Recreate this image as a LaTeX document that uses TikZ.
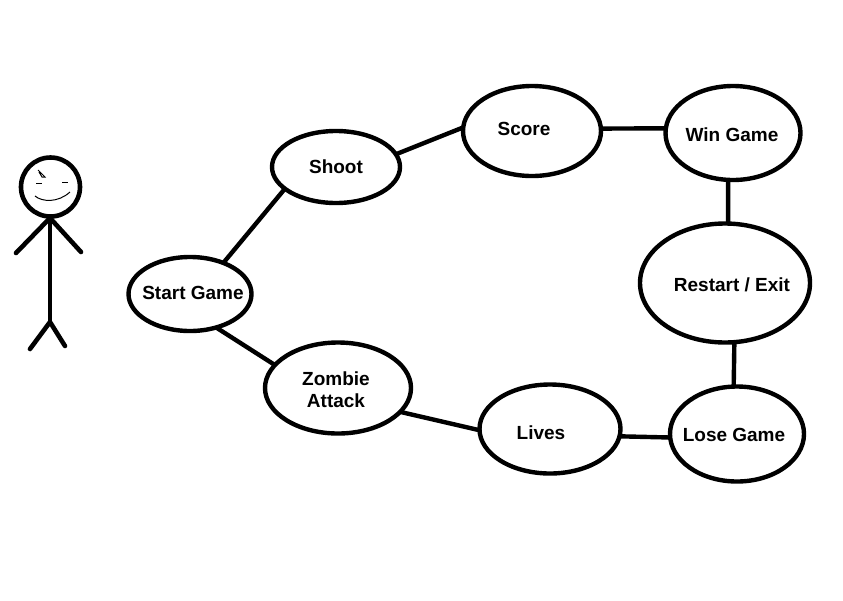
\documentclass[tikz,border=0pt]{standalone}
\usepackage{fontspec}
\setmainfont{Liberation Sans}
\usetikzlibrary{shapes.geometric}

\begin{document}
\begin{tikzpicture}[
    x=1pt, y=-1pt,
    state/.style={ellipse, draw=black, line width=4.4pt, inner sep=0pt, outer sep=0pt},
    caption/.style={inner sep=0pt, align=center, yshift=-0.8pt, font=\bfseries\fontsize{19}{22}\selectfont},
    link/.style={draw=black, line width=4.4pt},
    figure/.style={draw=black, line width=4.6pt, line cap=round, line join=round},
    face/.style={draw=black, line width=1pt}
]
\useasboundingbox (0,0) rectangle (843,600);

% States
\node[state, minimum width=123pt, minimum height=74pt] (start) at (190,294) {};
\node[state, minimum width=128pt, minimum height=72pt] (shoot) at (336,167) {};
\node[state, minimum width=138pt, minimum height=90pt] (score) at (532,131) {};
\node[state, minimum width=135pt, minimum height=94pt] (win) at (733,133) {};
\node[state, minimum width=170pt, minimum height=119pt] (restart) at (725,283) {};
\node[state, minimum width=134pt, minimum height=95pt] (lose) at (737,434) {};
\node[state, minimum width=141pt, minimum height=89pt] (lives) at (550,429) {};
\node[state, minimum width=146pt, minimum height=91pt] (zombie) at (338,388) {};

% Labels
\node[caption] (startlabel) at (193,292) {Start Game};
\node[caption] (shootlabel) at (336,166) {Shoot};
\node[caption] (scorelabel) at (524,128) {Score};
\node[caption] (winlabel) at (732,134) {Win Game};
\node[caption] (restartlabel) at (732,284) {Restart / Exit};
\node[caption] (loselabel) at (734,434) {Lose Game};
\node[caption] (liveslabel) at (541,432) {Lives};
\node[caption] (zombielabel) at (336,389) {Zombie\\Attack};

% Connectors
\draw[link] (start.43) -- (shoot.203);
\draw[link] (shoot.12) -- (score.177);
\draw[link] (score.2) -- (win.176);
\draw[link] (win.264) -- (restart.87);
\draw[link] (restart.279) -- (lose.94);
\draw[link] (lose.183) -- (lives.354);
\draw[link] (lives.181) -- (zombie.339);
\draw[link] (zombie.160) -- (start.308);

% Stick figure
\draw[figure] (50.5,187) circle (29.5pt);
\draw[figure] (50,218) -- (50,322);
\draw[figure] (16,253) -- (50,218) -- (81,252);
\draw[figure] (30,349) -- (50,322) -- (65,346);
\draw[face] (36,183) -- (42,183) (62,182) -- (68,182);
\draw[face] (35,196) .. controls (42,202) and (58,203) .. (70,192);
\draw[face] (38,170) -- (45,177) -- (42,177) -- (39,172);
\end{tikzpicture}
\end{document}
